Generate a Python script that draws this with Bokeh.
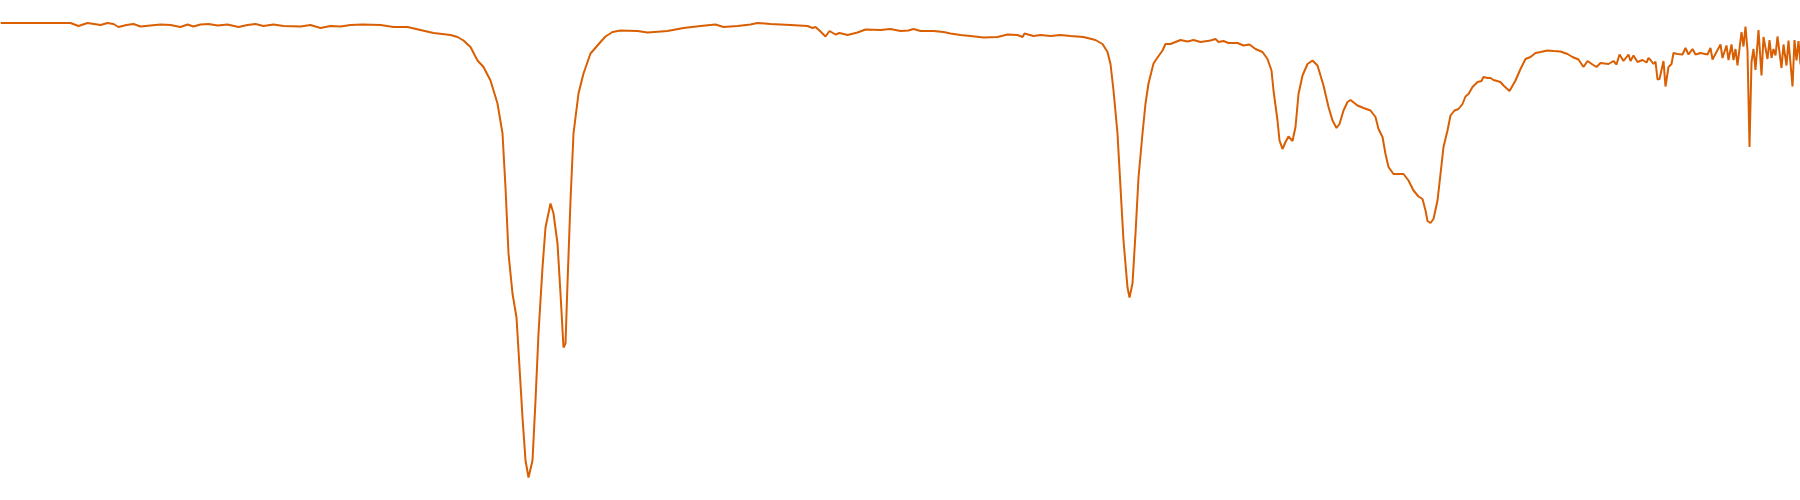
from bokeh.plotting import figure
from bokeh.models import Range1d
from bokeh.embed import file_html
from bokeh.resources import INLINE

# IR spectrum: wavenumber (cm^-1) and transmittance (%)
wavenumber = [
    4000, 3960, 3920, 3884, 3860, 3844, 3826, 3800, 3786, 3774, 3764, 3748, 3734, 3720,
    3700, 3680, 3660, 3640, 3626, 3614, 3600, 3584, 3566, 3546, 3524, 3506, 3490, 3474,
    3454, 3434, 3400, 3380, 3360, 3340, 3320, 3300, 3276, 3240, 3214, 3186, 3160, 3134,
    3100, 3086, 3074, 3060, 3046, 3034, 3020, 3006, 2996, 2990, 2984, 2976, 2968, 2964,
    2956, 2950, 2944, 2936, 2930, 2924, 2916, 2910, 2900, 2894, 2886, 2880, 2874, 2870,
    2866, 2860, 2854, 2844, 2834, 2820, 2800, 2790, 2776, 2760, 2726, 2706, 2666, 2634,
    2600, 2570, 2554, 2526, 2500, 2486, 2460, 2420, 2386, 2376, 2370, 2360, 2350, 2342,
    2330, 2322, 2306, 2286, 2270, 2240, 2220, 2200, 2184, 2174, 2160, 2134, 2114, 2100,
    2080, 2060, 2034, 2006, 1986, 1966, 1956, 1952, 1934, 1920, 1900, 1880, 1860, 1834,
    1810, 1796, 1786, 1780, 1774, 1766, 1760, 1754, 1746, 1742, 1736, 1730, 1724, 1716,
    1710, 1704, 1694, 1686, 1676, 1670, 1660, 1640, 1626, 1614, 1600, 1580, 1570, 1564,
    1554, 1544, 1526, 1514, 1502, 1490, 1476, 1466, 1458, 1454, 1446, 1442, 1436, 1430,
    1424, 1416, 1410, 1404, 1396, 1386, 1376, 1366, 1354, 1344, 1336, 1328, 1322, 1314,
    1306, 1300, 1286, 1274, 1260, 1250, 1244, 1236, 1230, 1224, 1214, 1194, 1184, 1174,
    1164, 1156, 1150, 1146, 1140, 1134, 1126, 1120, 1114, 1106, 1100, 1092, 1084, 1076,
    1070, 1064, 1056, 1046, 1038, 1034, 1026, 1020, 1014, 1000, 994, 982, 970, 960,
    950, 940, 930, 920, 906, 894, 880, 866, 856, 844, 834, 826, 816, 808,
    800, 784, 774, 768, 762, 754, 744, 740, 734, 726, 716, 708, 704, 700,
    694, 690, 686, 682, 674, 670, 664, 658, 654, 646, 636, 630, 624, 616,
    610, 600, 586, 580, 576, 568, 560, 556, 548, 544, 538, 534, 530, 526,
    518, 514, 510, 506, 502, 498, 494, 490, 484, 478, 474, 466, 462, 458,
    454, 450, 446, 438, 434, 428, 424, 416, 412, 408, 404, 400,
]

transmittance = [
    95.5, 95.5, 95.5, 95.5, 95.5, 94.9, 95.5, 95.1, 95.5, 95.3, 94.7, 95.1, 95.3, 94.8,
    95.0, 95.2, 95.1, 94.7, 95.2, 94.8, 95.2, 95.3, 95.0, 95.2, 94.7, 95.1, 95.3, 94.9,
    95.2, 94.9, 94.8, 95.1, 94.5, 94.9, 94.8, 95.1, 95.2, 95.1, 94.7, 94.7, 94.1, 93.5,
    93.1, 92.7, 92.0, 90.7, 88.0, 86.7, 84.0, 79.4, 73.4, 62.6, 49.4, 41.4, 36.6, 30.0,
    16.6, 8.0, 4.6, 8.0, 20.0, 33.4, 46.6, 54.6, 59.4, 57.4, 51.4, 41.4, 30.6, 31.4,
    43.4, 60.0, 73.4, 81.4, 85.4, 89.4, 91.7, 92.8, 93.7, 94.0, 93.9, 93.6, 93.9, 94.5,
    94.9, 95.2, 94.7, 94.9, 95.2, 95.5, 95.3, 95.1, 94.9, 94.5, 94.7, 93.8, 92.8, 93.9,
    93.2, 93.5, 93.1, 93.6, 94.2, 94.1, 94.3, 93.9, 94.0, 94.3, 93.9, 93.9, 93.7, 93.4,
    93.1, 92.9, 92.6, 92.7, 93.2, 93.1, 92.7, 93.4, 92.9, 93.1, 92.9, 93.1, 92.9, 92.7,
    92.1, 91.3, 89.7, 87.3, 82.0, 73.4, 62.6, 52.0, 42.6, 40.6, 43.4, 53.4, 64.6, 73.4,
    79.4, 83.4, 87.4, 88.6, 90.0, 91.3, 91.3, 92.1, 91.8, 92.1, 91.7, 92.0, 92.3, 91.7,
    91.9, 91.5, 91.5, 91.0, 91.2, 90.3, 89.7, 88.3, 86.0, 82.0, 76.0, 72.0, 70.3, 71.7,
    72.8, 71.9, 74.7, 81.3, 85.0, 87.3, 88.0, 87.0, 83.0, 78.7, 76.0, 74.5, 75.3, 78.0,
    79.7, 80.1, 79.0, 78.5, 78.0, 76.7, 74.3, 72.7, 69.3, 66.7, 65.3, 65.3, 64.0, 62.0,
    60.8, 60.3, 58.0, 55.9, 55.5, 56.3, 60.0, 65.3, 70.7, 74.0, 77.0, 78.0, 78.3, 79.3,
    80.8, 81.3, 82.7, 83.7, 83.9, 84.7, 84.5, 84.5, 84.1, 83.7, 83.0, 81.9, 84.0, 86.3,
    88.3, 88.7, 89.5, 89.7, 90.0, 89.9, 89.8, 89.3, 88.7, 88.2, 86.7, 87.9, 87.2, 86.7,
    87.5, 87.3, 87.9, 87.2, 89.2, 87.9, 89.2, 87.9, 89.0, 87.7, 88.1, 87.6, 88.5, 88.1,
    87.3, 87.8, 84.2, 84.3, 87.9, 82.8, 86.7, 87.3, 89.5, 89.3, 89.2, 90.5, 89.2, 90.3,
    89.2, 89.5, 89.2, 90.5, 88.2, 89.7, 91.2, 88.5, 91.0, 88.1, 91.2, 88.1, 90.3, 87.0,
    93.7, 90.8, 94.8, 90.0, 70.7, 87.7, 90.3, 86.1, 94.1, 85.0, 92.7, 88.3, 92.1, 88.5,
    90.3, 89.0, 92.8, 86.5, 91.2, 87.0, 92.0, 82.8, 92.1, 88.0, 91.9, 87.2,
]

p = figure(
    width=1800,
    height=500,
    x_range=Range1d(4000, 400),
    y_range=Range1d(0, 100),
    x_axis_type=None,
    y_axis_type=None,
    toolbar_location=None,
    output_backend="svg",
    min_border=0,
    outline_line_color=None,
)
p.line(wavenumber, transmittance, line_color="#d95f02", line_width=2)

open("out.html", "w").write(file_html(p, INLINE))
